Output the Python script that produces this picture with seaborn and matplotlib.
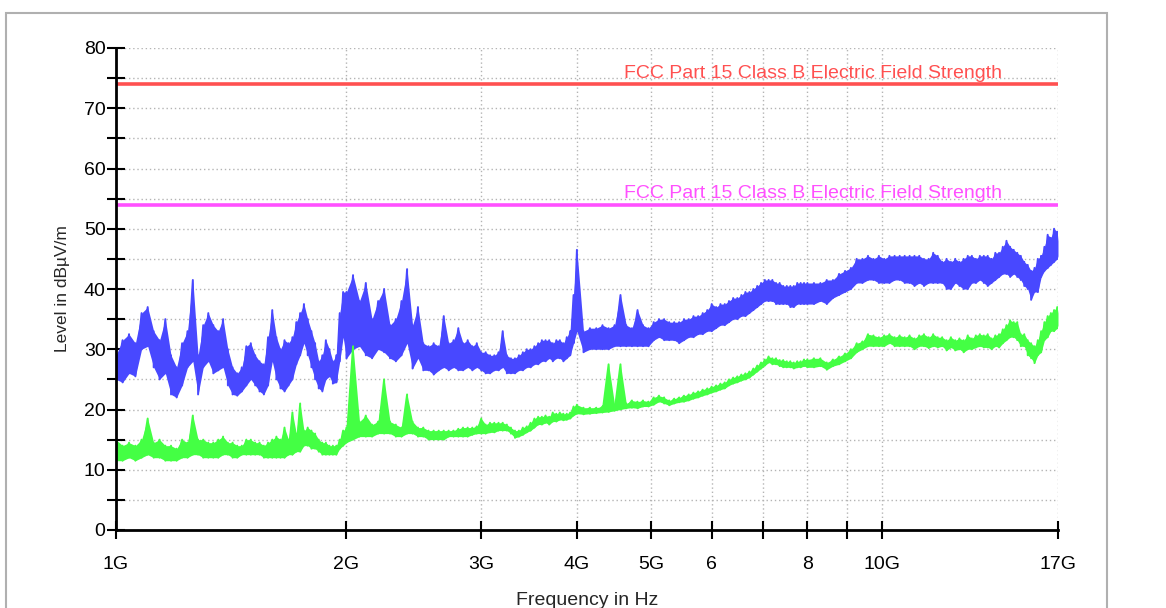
import matplotlib
matplotlib.use('Agg')
import pandas as pd
import matplotlib.pyplot as plt
from matplotlib.patches import Rectangle
from matplotlib.ticker import NullLocator
import seaborn as sns

# sweep frequencies in GHz (same sweep for both detectors)
freq_ghz = [
    1.00, 1.02, 1.04, 1.06, 1.08, 1.10, 1.12, 1.14, 1.16, 1.18,
    1.20, 1.22, 1.24, 1.26, 1.28, 1.30, 1.32, 1.34, 1.36, 1.38,
    1.40, 1.42, 1.44, 1.46, 1.48, 1.50, 1.52, 1.54, 1.56, 1.58,
    1.60, 1.62, 1.64, 1.66, 1.68, 1.70, 1.72, 1.74, 1.76, 1.78,
    1.80, 1.82, 1.84, 1.86, 1.88, 1.90, 1.92, 1.94, 1.96, 1.98,
    2.00, 2.04, 2.08, 2.12, 2.16, 2.20, 2.24, 2.28, 2.32, 2.36,
    2.40, 2.44, 2.48, 2.52, 2.56, 2.60, 2.64, 2.68, 2.72, 2.76,
    2.80, 2.84, 2.88, 2.92, 2.96, 3.00, 3.04, 3.08, 3.12, 3.16,
    3.20, 3.24, 3.28, 3.32, 3.36, 3.40, 3.44, 3.48, 3.52, 3.56,
    3.60, 3.64, 3.68, 3.72, 3.76, 3.80, 3.84, 3.88, 3.92, 3.96,
    4.00, 4.08, 4.16, 4.24, 4.32, 4.40, 4.48, 4.56, 4.64, 4.72,
    4.80, 4.88, 4.96, 5.04, 5.12, 5.20, 5.28, 5.36, 5.44, 5.52,
    5.60, 5.68, 5.76, 5.84, 5.92, 6.00, 6.08, 6.16, 6.24, 6.32,
    6.40, 6.48, 6.56, 6.64, 6.72, 6.80, 6.88, 6.96, 7.04, 7.12,
    7.20, 7.28, 7.36, 7.44, 7.52, 7.60, 7.68, 7.76, 7.84, 7.92,
    8.00, 8.16, 8.32, 8.48, 8.64, 8.80, 8.96, 9.12, 9.28, 9.44,
    9.60, 9.76, 9.92, 10.08, 10.24, 10.40, 10.56, 10.72, 10.88, 11.04,
    11.20, 11.36, 11.52, 11.68, 11.84, 12.00, 12.16, 12.32, 12.48, 12.64,
    12.80, 12.96, 13.12, 13.28, 13.44, 13.60, 13.76, 13.92, 14.08, 14.24,
    14.40, 14.56, 14.72, 14.88, 15.04, 15.20, 15.36, 15.52, 15.68, 15.84,
    16.00, 16.16, 16.32, 16.48, 16.64, 16.80, 16.96, 17.00,
]

# peak detector (blue): max / min reading in each frequency bin, dBuV/m
peak_hi = [
    29, 31.5, 32.5, 31, 36, 37, 33, 31.5, 35, 29,
    27, 31, 33, 41.5, 29, 34, 36, 34, 33, 35,
    30, 27, 26, 27, 30.5, 31, 29, 28, 27.5, 32,
    36.5, 32, 30, 31.5, 31, 32, 34.5, 36, 37.5, 35,
    33, 31, 28, 29, 31.5, 30, 28, 29, 36, 39.5,
    39.5, 42.3, 38, 41, 35, 38, 40, 34, 35, 38,
    43.3, 34, 37, 31, 30.5, 31, 30.5, 35.5, 31, 31.5,
    33.5, 31, 31.5, 30.5, 31, 29.5, 29.5, 29, 29, 29.5,
    33, 29, 28.5, 28.5, 29, 29.5, 30, 30, 30.5, 31,
    31.5, 31.5, 31.5, 31, 31.5, 31.5, 31, 32, 33, 39,
    46.5, 33, 33.5, 33.5, 34, 33.5, 34, 39, 34, 33.5,
    36.5, 34, 33.5, 34.5, 35, 35, 34.5, 34.5, 34.5, 35,
    35, 35.5, 35.5, 36, 36.5, 37.5, 37, 37.5, 37.5, 38,
    38.5, 38.5, 39, 39.5, 39.5, 40, 40.5, 41, 41.5, 41.5,
    41.5, 41, 41, 40.5, 40.5, 40.5, 40.5, 41, 41, 41,
    41, 41, 41, 41.5, 41.5, 42.5, 43, 43.5, 45, 45,
    45.5, 45, 45.5, 45, 45.5, 45.5, 45.5, 45.5, 45.5, 45.5,
    45.5, 45, 45, 46, 45.5, 44.5, 45, 44.5, 45, 44.5,
    45, 45.5, 45.5, 45, 45.5, 45.5, 45.5, 45, 46, 46,
    47, 48, 47, 46.5, 46, 45.5, 44.5, 44, 43, 43.5,
    45, 45.5, 47, 49, 48.5, 50, 49.5, 48,
]
peak_lo = [
    25, 24.5, 26, 25.5, 30, 30.5, 27, 25, 26, 22.5,
    22, 24, 27, 28, 22.5, 27, 28, 26, 26.5, 27,
    24, 22.5, 22.3, 23, 24, 25, 24, 23, 22.5, 24,
    28, 25, 23.5, 23, 24, 25, 27.5, 29, 31, 29,
    27, 25, 23.5, 23, 25, 25.5, 24.3, 24.5, 28, 32,
    28.5, 30, 30.5, 29, 28.5, 30, 29.5, 28.5, 28, 29,
    31, 26.8, 28.5, 26.5, 26.5, 25.8, 26.5, 27, 26.5, 27,
    26.5, 26.5, 27, 26.5, 27, 26.5, 26, 26, 26.5, 26.5,
    27, 26, 26, 26, 26.5, 26.5, 27, 27, 27.5, 27.5,
    28, 28, 28.5, 28, 28.5, 28.5, 28, 28.5, 29, 31,
    33, 29.5, 30, 30, 30, 30, 30.5, 30.5, 30.5, 30.5,
    30.5, 30.5, 30.5, 31.5, 32, 31.5, 31.5, 31.5, 31, 31.5,
    32, 32, 32.5, 32.5, 33, 33, 33.5, 34, 34, 34.5,
    35, 35, 35.5, 35.5, 36, 36.5, 37, 37.5, 38, 38,
    38, 37.5, 37.5, 37.5, 37.5, 37, 37, 37.5, 37.5, 37.5,
    37.5, 37.5, 38, 37.5, 38.5, 39, 39.5, 40, 41, 41,
    41.5, 41.5, 41, 41, 41, 41.5, 41.5, 41, 41, 40.5,
    41, 40.5, 41, 41, 41, 41, 40, 40, 41, 40.5,
    40, 40, 41, 41, 41.5, 41, 40.5, 41, 41.5, 42,
    42.5, 42.5, 42, 42.5, 42, 41.5, 40.5, 40, 38.2, 39.5,
    39.5, 42, 43, 43.5, 44, 44.5, 45, 45.5,
]

# average detector (green): max / min reading in each frequency bin, dBuV/m
avg_hi = [
    15, 14, 14.5, 14, 15, 18.5, 14.5, 15, 14, 14,
    13.5, 15, 14.5, 19, 15, 15, 14.5, 14.5, 15, 15.5,
    14.5, 14.5, 14, 14, 15, 15, 14.5, 14.5, 14, 14.5,
    15, 15.5, 15, 17, 15, 19.5, 16, 21, 16.5, 17,
    16.5, 16, 15, 14.5, 14.5, 14, 14, 14, 15, 16.5,
    17, 30.5, 18, 19, 17.5, 18, 25, 18, 17.5, 17,
    22.5, 18, 17, 17, 16.5, 16.5, 16.5, 16.5, 16.5, 16.5,
    16.8, 17, 17, 17, 17.2, 18.5, 17.5, 17.8, 17.8, 17.8,
    17.8, 17.5, 17, 16.5, 16.5, 17, 17.2, 17.8, 18.5, 18.8,
    18.8, 19, 18.8, 19.5, 19.3, 19.5, 19.3, 19.3, 19.5, 20.5,
    20.8, 20.3, 20.3, 20.3, 20.5, 27.5, 20.8, 27.5, 21, 21.5,
    21.3, 21.5, 21.3, 22, 22.3, 22, 21.5, 21.8, 22, 22.3,
    22.5, 22.8, 23, 23.3, 23.5, 23.8, 24, 24.3, 24.5, 25,
    25.3, 25.5, 25.8, 26, 26.3, 26.8, 27.3, 27.8, 28.3, 28.8,
    28.5, 28.5, 28.2, 28.2, 28, 28, 27.8, 28, 28, 28.3,
    28.3, 28.5, 28.5, 27.8, 28.3, 28.8, 29.3, 30, 31, 31.3,
    32.5, 32.3, 32, 32.3, 32.5, 32, 32.3, 32, 32.3, 31.8,
    32.3, 32.5, 32, 32.5, 32, 32, 31.5, 32, 31.5, 31.8,
    31.5, 32.3, 31.8, 32.3, 32.5, 32.3, 32.5, 31.8, 32.3, 32.5,
    33.3, 34, 34.8, 34.5, 34.5, 32.5, 32.5, 31.5, 31, 30.5,
    31.5, 33, 34.5, 35.5, 36, 36.5, 37, 36,
]
avg_lo = [
    11.5, 11.5, 12, 11.5, 12, 12.5, 12, 12, 11.5, 11.5,
    11.5, 12, 12, 12.5, 12.5, 12, 12, 12, 12, 12.5,
    12.5, 12, 12, 12.5, 12.5, 12.5, 12.5, 12.5, 12, 12,
    12, 12, 12, 12, 12.5, 12.5, 13, 13, 14, 14,
    13.5, 13.5, 13, 12.5, 12.5, 12.5, 12.5, 12.5, 13.5, 14,
    14.5, 15, 15.5, 15.5, 15.5, 16, 16, 16, 15.5, 15.5,
    16, 16, 15.5, 15.5, 15, 15, 15, 15, 15.5, 15.5,
    15.5, 15.5, 15.5, 15.8, 16, 16, 16, 16.2, 16.2, 16.5,
    16.5, 16.5, 16, 15.3, 15.5, 15.8, 16.2, 16.5, 17, 17.5,
    17.5, 17.8, 17.5, 18, 18, 18.3, 18.2, 18.3, 18.5, 19,
    19.3, 19.2, 19.3, 19.4, 19.5, 19.6, 19.8, 20, 20.2, 20.3,
    20.2, 20.5, 20.5, 20.8, 21.3, 21, 20.7, 21, 21.2, 21.3,
    21.5, 21.8, 22, 22.3, 22.5, 22.8, 23, 23.3, 23.5, 24,
    24.3, 24.5, 24.8, 25, 25.3, 25.8, 26.3, 26.8, 27.3, 27.8,
    27.5, 27.5, 27.2, 27, 27, 27, 26.8, 27, 27, 27.2,
    27, 27, 27.2, 26.6, 27.2, 27.5, 28, 28.5, 29.5, 30,
    30.5, 30.5, 30.5, 30.5, 31, 30.5, 30.5, 30.5, 30.5, 30,
    30.5, 30.5, 30.2, 30.5, 30.3, 30.5, 29.8, 30.3, 29.8, 30,
    29.5, 30, 30, 30.3, 30.5, 30.3, 30.3, 30, 30.5, 30.3,
    31, 31.5, 32, 32, 31.5, 30.5, 30.5, 29, 28.5, 27.7,
    29, 29.5, 31.5, 32, 33, 33, 33.5, 34,
]

limit_peak = 74.0
limit_avg = 54.0
limit_name = 'FCC Part 15 Class B Electric Field Strength'

xtick_ghz = [1, 2, 3, 4, 5, 6, 7, 8, 9, 10, 17]
xtick_labels = ['1G', '2G', '3G', '4G', '5G', '6', '', '8', '', '10G', '17G']

blue = '#4848ff'
green = '#44ff44'

sns.set_style('white')
plt.rcParams['font.family'] = ['Liberation Sans', 'DejaVu Sans']


def trace_rows(name, hi, lo):
    # draw each bin as a max->min stroke, like the analyser display
    rows = []
    for f, h, l in zip(freq_ghz, hi, lo):
        rows.append((name, f, h))
        rows.append((name, f, l))
    return rows


df = pd.DataFrame(trace_rows('Peak', peak_hi, peak_lo) + trace_rows('Average', avg_hi, avg_lo),
                  columns=['trace', 'freq', 'level'])

fig = plt.figure(figsize=(11.66, 6.08), dpi=100)
ax = fig.add_axes([116 / 1166, 1 - 530 / 608, (1058 - 116) / 1166, (530 - 48) / 608])

# solid band between min and max, then the strokes on top
ax.fill_between(freq_ghz, peak_lo, peak_hi, color=blue, lw=0)
ax.fill_between(freq_ghz, avg_lo, avg_hi, color=green, lw=0)
sns.lineplot(data=df, x='freq', y='level', hue='trace', hue_order=['Peak', 'Average'],
             palette={'Peak': blue, 'Average': green},
             estimator=None, sort=False, legend=False, lw=1.4, ax=ax)

ax.axhline(limit_peak, color='#ff5050', lw=2.6)
ax.axhline(limit_avg, color='#ff50ff', lw=2.6)
ax.text(4.61, limit_peak + 0.4, limit_name, color='#ff5050', fontsize=14,
        ha='left', va='bottom', clip_on=False)
ax.text(4.61, limit_avg + 0.4, limit_name, color='#ff50ff', fontsize=14,
        ha='left', va='bottom', clip_on=False)

ax.set_xscale('log')
ax.set_xlim(1, 17)
ax.set_ylim(0, 80)
ax.set_xticks(xtick_ghz)
ax.set_xticklabels(xtick_labels)
ax.xaxis.set_minor_locator(NullLocator())
ax.set_yticks(range(0, 81, 10))
ax.set_yticks(range(5, 80, 10), minor=True)

ax.tick_params(axis='both', which='both', direction='inout', length=13, width=1.5,
               color='black', labelsize=14, labelcolor='black',
               bottom=True, left=True)
ax.tick_params(axis='y', pad=1)
ax.tick_params(axis='x', pad=12)

ax.set_axisbelow(True)
ax.grid(True, which='both', axis='y', ls=(0, (1, 2)), color='#b4b4b4', lw=1)
ax.grid(True, which='major', axis='x', ls=(0, (1, 2)), color='#b4b4b4', lw=1)

for s in ['top', 'right']:
    ax.spines[s].set_visible(False)
for s in ['left', 'bottom']:
    ax.spines[s].set_color('black')
    ax.spines[s].set_linewidth(2)

ax.set_xlabel('Frequency in Hz', fontsize=14, labelpad=14)
ax.set_ylabel('Level in dBµV/m', fontsize=12.5, labelpad=10)

# grey outer frame of the report page
fig.patches.append(Rectangle((6 / 1166, -0.05), (1107 - 6) / 1166, 1.05 - 13 / 608,
                             transform=fig.transFigure, fill=False,
                             edgecolor='#b0b0b0', lw=1.5))

fig.savefig('out.png', dpi=100)
